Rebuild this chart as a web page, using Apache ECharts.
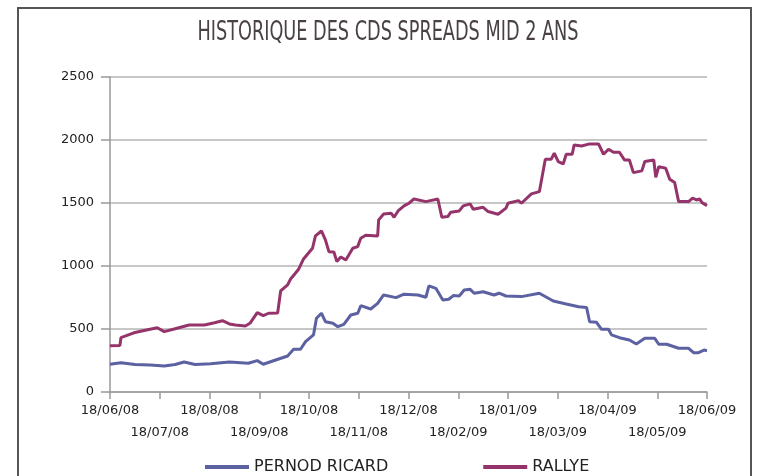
<!DOCTYPE html>
<html>
<head>
<meta charset="utf-8">
<script src="https://cdn.jsdelivr.net/npm/echarts@6/dist/echarts.min.js"></script>
<style>
  html, body { margin: 0; padding: 0; background: #fff; }
  #chart { width: 760px; height: 476px; }
</style>
</head>
<body>
<div id="chart"></div>
<script>
// libellés de l'axe des x (un par mois, deux rangées alternées)
const monthLabels = [
  "18/06/08", "18/07/08", "18/08/08", "18/09/08", "18/10/08", "18/11/08", "18/12/08",
  "18/02/09", "18/01/09", "18/03/09", "18/04/09", "18/05/09", "18/06/09"
];

// RALLYE : position en mois depuis le 18/06/08, spread en pb
const rallyeT = [0, 0.2, 0.22, 0.48, 0.71, 0.95, 1.09, 1.29, 1.59, 1.9, 2.1, 2.26, 2.4, 2.52, 2.72, 2.82,
  2.96, 3.08, 3.19, 3.37, 3.43, 3.57, 3.63, 3.73, 3.79, 3.89, 4.07, 4.13, 4.25, 4.33, 4.4, 4.5, 4.56,
  4.64, 4.74, 4.88, 4.98, 5.04, 5.14, 5.38, 5.4, 5.5, 5.65, 5.71, 5.79, 5.91, 6.01, 6.11, 6.35, 6.59,
  6.67, 6.79, 6.85, 7.02, 7.1, 7.24, 7.3, 7.5, 7.6, 7.8, 7.96, 8.0, 8.21, 8.27, 8.47, 8.63, 8.75, 8.87,
  8.93, 9.01, 9.11, 9.17, 9.29, 9.33, 9.48, 9.64, 9.82, 9.92, 10.02, 10.12, 10.24, 10.34, 10.44, 10.52,
  10.69, 10.75, 10.93, 10.97, 11.03, 11.17, 11.25, 11.35, 11.43, 11.63, 11.71, 11.79, 11.85, 11.9, 12];
const rallyeV = [368, 370, 431, 470, 490, 510, 479, 500, 532, 532, 550, 566, 540, 532, 524, 548,
  630, 606, 625, 627, 802, 850, 897, 945, 974, 1056, 1141, 1239, 1278, 1207, 1114, 1111, 1035,
  1072, 1048, 1141, 1154, 1220, 1244, 1239, 1366, 1413, 1419, 1387, 1437, 1477, 1498, 1532, 1511, 1532,
  1387, 1392, 1427, 1437, 1477, 1493, 1451, 1466, 1432, 1411, 1459, 1498, 1519, 1498, 1572, 1590, 1848, 1848,
  1895, 1829, 1810, 1887, 1887, 1961, 1953, 1969, 1969, 1887, 1927, 1903, 1903, 1842, 1842, 1741,
  1755, 1829, 1842, 1704, 1789, 1776, 1689, 1662, 1511, 1511, 1538, 1524, 1532, 1503, 1479];

// PERNOD RICARD
const pernodT = [0, 0.22, 0.5, 0.81, 1.09, 1.31, 1.49, 1.71, 2.02, 2.4, 2.78, 2.96, 3.08, 3.33, 3.57,
  3.69, 3.83, 3.93, 4.09, 4.15, 4.25, 4.33, 4.48, 4.58, 4.7, 4.84, 4.98, 5.04, 5.24, 5.38, 5.5, 5.75,
  5.91, 6.19, 6.35, 6.41, 6.55, 6.69, 6.81, 6.9, 7.02, 7.12, 7.24, 7.32, 7.5, 7.72, 7.82, 7.96, 8.27,
  8.63, 8.91, 9.17, 9.42, 9.58, 9.64, 9.78, 9.88, 10.02, 10.08, 10.24, 10.44, 10.58, 10.75, 10.95,
  11.03, 11.19, 11.43, 11.63, 11.73, 11.83, 11.94, 12];
const pernodV = [220, 233, 218, 215, 206, 218, 238, 218, 225, 238, 228, 249, 220, 254, 286,
  339, 339, 400, 453, 585, 625, 558, 545, 518, 537, 611, 625, 685, 659, 704, 770, 749,
  776, 770, 752, 842, 823, 730, 736, 765, 762, 810, 815, 784, 796, 770, 784, 762, 757,
  784, 722, 699, 677, 670, 558, 553, 498, 498, 453, 431, 413, 381, 426, 426,
  379, 379, 347, 347, 312, 312, 333, 328];

const zip = (t, v) => t.map((x, i) => [x, v[i]]);

const labelStyle = {
  showMinLabel: true,
  showMaxLabel: true,
  hideOverlap: false,
  fontFamily: "DejaVu Sans",
  fontSize: 13,
  color: "#222"
};

const chart = echarts.init(document.getElementById("chart"));
chart.setOption({
  animation: false,
  backgroundColor: "#fff",
  graphic: [
    {
      type: "rect",
      shape: { x: 18, y: 8, width: 733, height: 480 },
      style: { fill: "none", stroke: "#555", lineWidth: 2 },
      silent: true
    },
    {
      // titre condensé (pas de police étroite installée, on compresse)
      type: "text",
      x: 388,
      y: 33,
      scaleX: 0.655,
      style: {
        text: "HISTORIQUE DES CDS SPREADS MID 2 ANS",
        font: "27px 'DejaVu Sans', sans-serif",
        fill: "#4a4242",
        align: "center",
        verticalAlign: "middle"
      },
      silent: true
    }
  ],
  legend: {
    top: 454,
    left: 200,
    itemGap: 95,
    itemWidth: 44,
    itemHeight: 4,
    icon: "rect",
    textStyle: {
      fontFamily: "'DejaVu Sans', sans-serif",
      fontSize: 16,
      color: "#222"
    },
    data: ["PERNOD RICARD", "RALLYE"]
  },
  grid: { left: 110, right: 53, top: 77, bottom: 84 },
  xAxis: [
    {
      // rangée du haut : mois pairs
      type: "value",
      min: 0,
      max: 12,
      interval: 1,
      axisLine: { lineStyle: { color: "#999", width: 1.5 } },
      axisTick: { show: true, length: 7, lineStyle: { color: "#999", width: 1.5 } },
      splitLine: { show: false },
      axisLabel: {
        ...labelStyle,
        margin: 12,
        formatter: v => (Math.round(v) % 2 ? "" : monthLabels[Math.round(v)])
      }
    },
    {
      // rangée du bas : mois impairs
      type: "value",
      position: "bottom",
      min: 0,
      max: 12,
      interval: 1,
      axisLine: { show: false },
      axisTick: { show: false },
      splitLine: { show: false },
      axisLabel: {
        ...labelStyle,
        margin: 34,
        formatter: v => (Math.round(v) % 2 ? monthLabels[Math.round(v)] : "")
      }
    }
  ],
  yAxis: {
    type: "value",
    min: 0,
    max: 2500,
    interval: 500,
    axisLine: { show: true, lineStyle: { color: "#999", width: 1.5 } },
    axisTick: { show: true, length: 9, lineStyle: { color: "#999", width: 1.5 } },
    splitLine: { lineStyle: { color: "#b4b4b4", width: 1.5 } },
    axisLabel: {
      margin: 16,
      fontFamily: "DejaVu Sans",
      fontSize: 13,
      color: "#222",
      formatter: v => String(v)
    }
  },
  series: [
    {
      name: "PERNOD RICARD",
      type: "line",
      xAxisIndex: 0,
      data: zip(pernodT, pernodV),
      showSymbol: false,
      lineStyle: { color: "#5c61a1", width: 3 },
      itemStyle: { color: "#5c61a1" }
    },
    {
      name: "RALLYE",
      type: "line",
      xAxisIndex: 0,
      data: zip(rallyeT, rallyeV),
      showSymbol: false,
      lineStyle: { color: "#95346b", width: 3 },
      itemStyle: { color: "#95346b" }
    }
  ]
});
</script>
</body>
</html>
